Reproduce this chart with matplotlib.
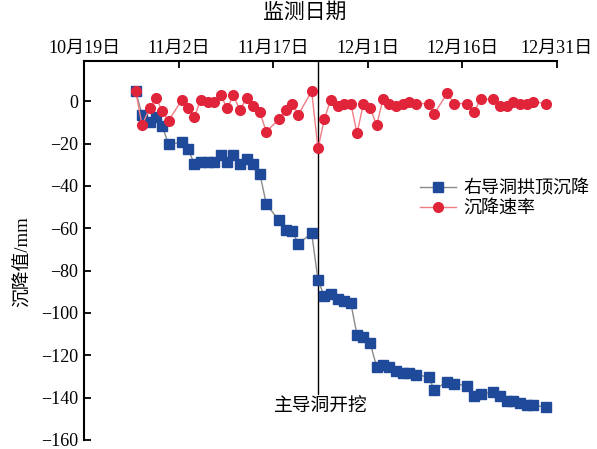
import matplotlib
matplotlib.use("Agg")
import matplotlib.pyplot as plt

plt.rcParams['font.family'] = ['Liberation Serif', 'Noto Sans CJK SC']
plt.rcParams['axes.unicode_minus'] = True

# days after 10月19日
days = [8.2, 9.2, 10.4, 11.4, 12.4, 13.4, 15.5, 16.5, 17.5, 18.5,
        19.6, 20.6, 21.7, 22.7, 23.7, 24.7, 25.8, 26.8, 27.9, 28.9,
        30.9, 32.0, 33.0, 34.0, 36.1, 37.1, 38.1, 39.1, 40.2, 41.2,
        42.3, 43.3, 44.3, 45.4, 46.4, 47.4, 48.4, 49.5, 50.6, 51.6,
        52.6, 54.7, 55.5, 57.6, 58.7, 60.8, 61.8, 62.9, 64.9, 65.9,
        67.0, 68.0, 69.1, 70.2, 71.2, 73.2]

settlement = [4.7, -6.4, -9.6, -7.4, -11.6, -20.4, -19.4, -22.6, -29.6, -28.6,
              -28.6, -28.6, -25.3, -28.6, -25.4, -29.6, -27.3, -29.6, -34.4, -48.5,
              -56.3, -60.6, -61.4, -67.3, -62.3, -84.4, -92.1, -91.2, -93.4, -94.4,
              -95.2, -110.6, -111.5, -114.4, -125.5, -124.4, -125.5, -127.4, -128.3, -128.3,
              -129.1, -130.3, -136.3, -132.4, -133.5, -134.3, -139.3, -138.4, -137.3, -139.4,
              -141.4, -141.4, -142.4, -143.4, -143.4, -144.5]

rate = [4.7, -11.3, -3.4, 1.7, -4.6, -9.3, 0.6, -3.4, -7.4, 0.6,
        -0.2, -0.2, 2.8, -3.4, 2.8, -4.2, 1.7, -2.2, -5.3, -14.4,
        -8.5, -4.2, -1.1, -6.3, 4.7, -22.3, -8.5, 0.6, -2.2, -1.1,
        -1.1, -15.2, -1.1, -3.3, -11.3, 0.9, -1.1, -2.2, -1.1, -0.2,
        -1.1, -1.1, -6.1, 3.8, -1.1, -1.1, -5.3, 0.9, 0.9, -2.2,
        -2.2, -0.2, -1.1, -1.1, -0.2, -1.1]

tick_days = [0, 15, 30, 45, 60, 75]
tick_labels = ['10月19日', '11月2日', '11月17日', '12月1日', '12月16日', '12月31日']
excavation_day = 37.1

fig = plt.figure(figsize=(5.97, 4.49), dpi=100)
ax = fig.add_axes([84 / 597, 1 - 440 / 449, 473 / 597, 379 / 449])

ax.plot(days, settlement, color='#8a8a8a', lw=1.0, marker='s', ms=6.5,
        mfc='#1f4a9a', mec='#1f4a9a', label='右导洞拱顶沉降', zorder=3)
ax.plot(days, rate, color='#f07c84', lw=1.0, marker='o', ms=7,
        mfc='#e0243a', mec='#e0243a', label='沉降速率', zorder=3)

ax.plot([excavation_day, excavation_day], [19, -138.5], color='black', lw=1.0, zorder=2)
ax.text(excavation_day + 0.4, -144.5, '主导洞开挖', ha='center', va='center', fontsize=13.5)

ax.set_xlim(0, 75)
ax.set_ylim(-160, 19)
ax.set_yticks(range(-160, 1, 20))
ax.set_xticks(tick_days)
ax.set_xticklabels(tick_labels)

ax.xaxis.tick_top()
ax.xaxis.set_label_position('top')
ax.set_xlabel('监测日期', fontsize=15)
ax.xaxis.set_label_coords((305 - 84) / 473, 1.115)
ax.set_ylabel('沉降值/mm', fontsize=13.5)
ax.yaxis.set_label_coords(-0.11, 0.47)

for side in ['right', 'bottom']:
    ax.spines[side].set_visible(False)
for side in ['left', 'top']:
    ax.spines[side].set_linewidth(1.5)
ax.tick_params(direction='in', length=5, width=1.3, labelsize=13, pad=4)
ax.tick_params(axis='x', top=True, bottom=False, pad=3)

ax.legend(loc='upper left', bbox_to_anchor=(0.695, 0.705), frameon=False,
          fontsize=13, handlelength=2.0, handletextpad=0.4,
          borderaxespad=0, labelspacing=0.15)

fig.savefig('out.png', dpi=100)
